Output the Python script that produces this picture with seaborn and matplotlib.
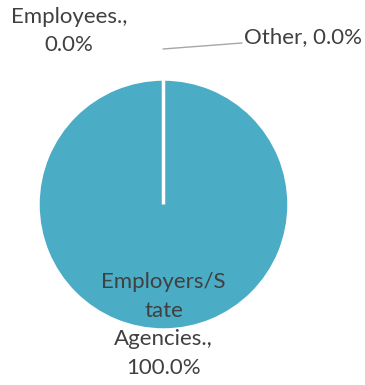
import matplotlib
matplotlib.use("Agg")
import matplotlib.pyplot as plt
import seaborn as sns

sns.set_theme(style="white")
plt.rcParams["font.family"] = ["Lato", "DejaVu Sans"]

categories = ["Employees.", "Employers/State Agencies.", "Other"]
shares = [0.0, 100.0, 0.0]
wedge_color = "#4BACC6"
text_color = "#404040"

W, H = 365, 385
fig = plt.figure(figsize=(W / 100, H / 100), dpi=100)
ax = fig.add_axes([0, 0, 1, 1])

cx, cy, r = 163.5, H - 204.5, 125.5
ax.pie(
    shares,
    colors=[wedge_color] * len(shares),
    startangle=90,
    counterclock=False,
    center=(cx, cy),
    radius=r,
    wedgeprops=dict(edgecolor="white", linewidth=2.5),
)
ax.set_xlim(0, W)
ax.set_ylim(0, H)
ax.set_aspect("equal")
ax.axis("off")

fs = 16
labels = [f"{c}, {v:.1f}%" for c, v in zip(categories, shares)]

# Employees label, top left
ax.text(69, H - 31, f"{categories[0]},\n{shares[0]:.1f}%",
        ha="center", va="center", multialignment="center",
        fontsize=fs, color=text_color, linespacing=1.5)

# Other label with leader line
ax.text(244, H - 37, labels[2], ha="left", va="center",
        fontsize=fs, color=text_color)
ax.plot([163, 242], [H - 49, H - 43], color="#A6A6A6", lw=1.0)

# Employers label, wrapped across the lower edge of the pie
ax.text(163.5, H - 325, f"Employers/S\ntate\nAgencies.,\n{shares[1]:.1f}%",
        ha="center", va="center", multialignment="center",
        fontsize=fs, color=text_color, linespacing=1.55)

fig.savefig("out.png", dpi=100)
